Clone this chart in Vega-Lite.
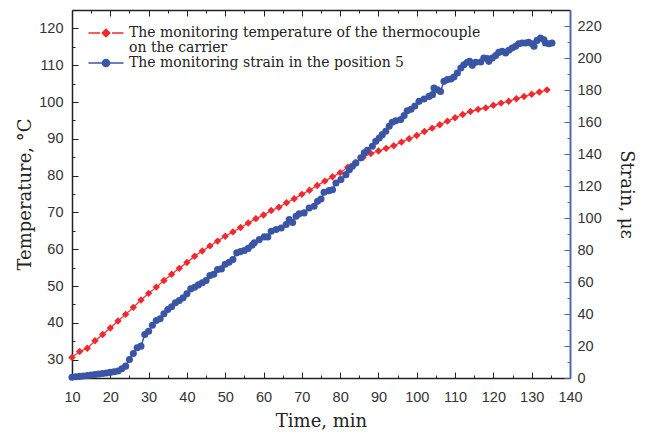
{
  "$schema": "https://vega.github.io/schema/vega-lite/v6.json",
  "width": 498,
  "height": 368,
  "autosize": {"type": "none"},
  "padding": {"left": 72, "top": 10, "right": 76, "bottom": 59},
  "background": "white",
  "config": {
    "view": {"stroke": null},
    "axis": {
      "grid": false,
      "labelFlush": false,
      "labelFont": "Liberation Sans",
      "labelFontSize": 14.5,
      "labelColor": "#333",
      "titleFont": "DejaVu Serif",
      "titleFontSize": 18,
      "titleFontWeight": "normal",
      "titleColor": "#222",
      "domainColor": "#222",
      "tickColor": "#222",
      "domainWidth": 1.5,
      "tickWidth": 1
    }
  },
  "datasets": {
    "temp": [
      {"time": 10, "temperature": 30.6}, {"time": 12, "temperature": 32.2}, {"time": 14, "temperature": 33.1},
      {"time": 16, "temperature": 35.1}, {"time": 18, "temperature": 36.8}, {"time": 20, "temperature": 38.6},
      {"time": 22, "temperature": 40.5}, {"time": 24, "temperature": 42.3}, {"time": 26, "temperature": 44.2},
      {"time": 28, "temperature": 46.2}, {"time": 30, "temperature": 48.0}, {"time": 32, "temperature": 49.7},
      {"time": 34, "temperature": 51.5}, {"time": 36, "temperature": 53.2}, {"time": 38, "temperature": 54.8},
      {"time": 40, "temperature": 56.4}, {"time": 42, "temperature": 58.1}, {"time": 44, "temperature": 59.5},
      {"time": 46, "temperature": 60.9}, {"time": 48, "temperature": 62.2}, {"time": 50, "temperature": 63.5},
      {"time": 52, "temperature": 64.7}, {"time": 54, "temperature": 65.9}, {"time": 56, "temperature": 67.1},
      {"time": 58, "temperature": 68.3}, {"time": 60, "temperature": 69.3}, {"time": 62, "temperature": 70.5},
      {"time": 64, "temperature": 71.4}, {"time": 66, "temperature": 72.6}, {"time": 68, "temperature": 73.7},
      {"time": 70, "temperature": 74.9}, {"time": 72, "temperature": 76.0}, {"time": 74, "temperature": 77.3},
      {"time": 76, "temperature": 78.5}, {"time": 78, "temperature": 79.7}, {"time": 80, "temperature": 80.8},
      {"time": 82, "temperature": 82.3}, {"time": 84, "temperature": 83.6}, {"time": 86, "temperature": 85.0},
      {"time": 88, "temperature": 86.0}, {"time": 90, "temperature": 86.7}, {"time": 92, "temperature": 87.4},
      {"time": 94, "temperature": 88.1}, {"time": 96, "temperature": 89.1}, {"time": 98, "temperature": 90.0},
      {"time": 100, "temperature": 90.9}, {"time": 102, "temperature": 92.0}, {"time": 104, "temperature": 92.9},
      {"time": 106, "temperature": 93.8}, {"time": 108, "temperature": 94.8}, {"time": 110, "temperature": 95.7},
      {"time": 112, "temperature": 96.6}, {"time": 114, "temperature": 97.4}, {"time": 116, "temperature": 98.0},
      {"time": 118, "temperature": 98.4}, {"time": 120, "temperature": 99.1}, {"time": 122, "temperature": 99.7},
      {"time": 124, "temperature": 100.2}, {"time": 126, "temperature": 100.9}, {"time": 128, "temperature": 101.5},
      {"time": 130, "temperature": 102.1}, {"time": 132, "temperature": 102.7}, {"time": 134, "temperature": 103.3}
    ],
    "strain": [
      {"time": 10, "strain": 0.5}, {"time": 11, "strain": 0.8}, {"time": 12, "strain": 1.0}, {"time": 13, "strain": 1.3},
      {"time": 14, "strain": 1.6}, {"time": 15, "strain": 1.9}, {"time": 16, "strain": 2.2}, {"time": 17, "strain": 2.5},
      {"time": 18, "strain": 2.8}, {"time": 19, "strain": 3.1}, {"time": 20, "strain": 3.5}, {"time": 21, "strain": 3.9},
      {"time": 22, "strain": 4.4}, {"time": 23, "strain": 5.8}, {"time": 24, "strain": 7.4}, {"time": 25, "strain": 11.6},
      {"time": 26, "strain": 15.3}, {"time": 27, "strain": 18.9}, {"time": 28, "strain": 19.9}, {"time": 29, "strain": 27.2},
      {"time": 30, "strain": 29.2}, {"time": 31, "strain": 33.0}, {"time": 32, "strain": 35.9}, {"time": 33, "strain": 37.0},
      {"time": 34, "strain": 40.1}, {"time": 35, "strain": 42.8}, {"time": 36, "strain": 44.5}, {"time": 37, "strain": 47.0},
      {"time": 38, "strain": 48.4}, {"time": 39, "strain": 50.1}, {"time": 40, "strain": 52.6}, {"time": 41, "strain": 55.7},
      {"time": 42, "strain": 56.7}, {"time": 43, "strain": 58.2}, {"time": 44, "strain": 59.5}, {"time": 45, "strain": 60.9},
      {"time": 46, "strain": 64.0}, {"time": 47, "strain": 64.8}, {"time": 48, "strain": 67.8}, {"time": 49, "strain": 68.2},
      {"time": 50, "strain": 71.1}, {"time": 51, "strain": 72.3}, {"time": 52, "strain": 74.0}, {"time": 53, "strain": 78.2},
      {"time": 54, "strain": 79.0}, {"time": 55, "strain": 79.7}, {"time": 56, "strain": 81.0}, {"time": 57, "strain": 83.0},
      {"time": 57.6, "strain": 84.5}, {"time": 58.9, "strain": 86.5}, {"time": 60.2, "strain": 88.2}, {"time": 61.1, "strain": 88.2},
      {"time": 62, "strain": 91.7}, {"time": 63.3, "strain": 92.8}, {"time": 64.6, "strain": 93.8}, {"time": 65.9, "strain": 95.9},
      {"time": 66.7, "strain": 99.0}, {"time": 67.6, "strain": 97.2}, {"time": 68.5, "strain": 101.1}, {"time": 69.3, "strain": 102.6},
      {"time": 70.6, "strain": 103.2}, {"time": 71.9, "strain": 106.3}, {"time": 73.2, "strain": 107.3}, {"time": 74.1, "strain": 110.4},
      {"time": 75, "strain": 111.9}, {"time": 75.8, "strain": 116.1}, {"time": 77.1, "strain": 117.1}, {"time": 78, "strain": 117.7},
      {"time": 78.9, "strain": 121.9}, {"time": 80.2, "strain": 124.0}, {"time": 81.5, "strain": 127.1}, {"time": 82.4, "strain": 130.2},
      {"time": 83.2, "strain": 132.3}, {"time": 84.1, "strain": 134.4}, {"time": 85.4, "strain": 137.6}, {"time": 86.3, "strain": 140.7},
      {"time": 87.1, "strain": 142.3}, {"time": 88.4, "strain": 144.8}, {"time": 89.3, "strain": 147.9}, {"time": 90.2, "strain": 150.0},
      {"time": 91, "strain": 152.1}, {"time": 91.9, "strain": 154.2}, {"time": 92.8, "strain": 157.3}, {"time": 93.6, "strain": 159.8},
      {"time": 94.5, "strain": 160.8}, {"time": 95.8, "strain": 161.5}, {"time": 96.7, "strain": 164.0}, {"time": 97.5, "strain": 167.0},
      {"time": 98.5, "strain": 168.0}, {"time": 99.5, "strain": 170.0}, {"time": 100.6, "strain": 172.9}, {"time": 101.9, "strain": 174.4},
      {"time": 103.2, "strain": 176.0}, {"time": 104.1, "strain": 177.1}, {"time": 104.5, "strain": 181.3}, {"time": 105.4, "strain": 180.2},
      {"time": 106.2, "strain": 179.1}, {"time": 107.1, "strain": 185.4}, {"time": 108, "strain": 186.5}, {"time": 108.9, "strain": 186.9},
      {"time": 109.7, "strain": 188.1}, {"time": 110.6, "strain": 190.6}, {"time": 111.5, "strain": 193.8}, {"time": 112.3, "strain": 195.8},
      {"time": 113.2, "strain": 197.3}, {"time": 113.8, "strain": 197.9}, {"time": 114.5, "strain": 195.4}, {"time": 115.4, "strain": 197.3},
      {"time": 116.7, "strain": 197.5}, {"time": 117.5, "strain": 200.0}, {"time": 118.4, "strain": 199.6}, {"time": 118.8, "strain": 197.9},
      {"time": 119.7, "strain": 200.0}, {"time": 120.6, "strain": 201.5}, {"time": 121.4, "strain": 203.5}, {"time": 122.3, "strain": 204.2},
      {"time": 123.2, "strain": 203.2}, {"time": 124, "strain": 204.8}, {"time": 124.9, "strain": 206.3}, {"time": 125.8, "strain": 207.3},
      {"time": 126.6, "strain": 208.9}, {"time": 127.5, "strain": 209.4}, {"time": 128.4, "strain": 209.4}, {"time": 129.2, "strain": 209.8},
      {"time": 130.1, "strain": 208.9}, {"time": 130.6, "strain": 207.3}, {"time": 131.4, "strain": 211.0}, {"time": 132.3, "strain": 212.5},
      {"time": 133.2, "strain": 211.4}, {"time": 133.6, "strain": 209.4}, {"time": 134.5, "strain": 208.9}, {"time": 135.3, "strain": 209.4}
    ]
  },
  "layer": [
    {
      "data": {"name": "temp"},
      "mark": {"type": "line", "strokeWidth": 1.2},
      "encoding": {
        "x": {"field": "time", "type": "quantitative", "scale": {"domain": [10, 140], "nice": false, "zero": false},
          "axis": {"orient": "bottom", "values": [10, 20, 30, 40, 50, 60, 70, 80, 90, 100, 110, 120, 130, 140], "tickSize": -6, "labelPadding": 18, "title": "Time, min", "titlePadding": 9}},
        "y": {"field": "temperature", "type": "quantitative", "scale": {"domain": [25, 125], "nice": false, "zero": false},
          "axis": {"orient": "left", "values": [30, 40, 50, 60, 70, 80, 90, 100, 110, 120], "tickSize": -6, "labelPadding": 15, "title": "Temperature, °C", "titlePadding": 4}},
        "color": {
          "datum": "The monitoring temperature of the thermocouple on the carrier",
          "type": "nominal",
          "scale": {"domain": ["The monitoring temperature of the thermocouple on the carrier", "The monitoring strain in the position 5"], "range": ["#f2282d", "#3a55a5"]},
          "legend": {
            "orient": "none", "legendX": 27, "legendY": 16, "direction": "vertical", "title": null,
            "labelFont": "DejaVu Serif", "labelFontSize": 14, "labelColor": "#222", "labelLimit": 600,
            "labelOffset": 16, "symbolSize": 100, "symbolStrokeWidth": 1.5, "rowPadding": 1,
            "labelExpr": "datum.label == 'The monitoring temperature of the thermocouple on the carrier' ? ['The monitoring temperature of the thermocouple', 'on the carrier'] : datum.label",
            "encode": {
              "labels": {"update": {"lineHeight": {"value": 15}}},
              "symbols": {"update": {
                "shape": {"signal": "datum.value == 'The monitoring temperature of the thermocouple on the carrier' ? 'M-3.5,0H-1.2M1.2,0H3.5M0,-0.75L0.75,0L0,0.75L-0.75,0Z' : 'M-3.5,0H3.5M-0.7,0A0.7,0.7,0,1,1,0.7,0A0.7,0.7,0,1,1,-0.7,0Z'"},
                "fill": {"signal": "datum.value == 'The monitoring temperature of the thermocouple on the carrier' ? '#f2282d' : '#3a55a5'"},
                "stroke": {"signal": "datum.value == 'The monitoring temperature of the thermocouple on the carrier' ? '#f2282d' : '#3a55a5'"},
                "strokeWidth": {"value": 1.5},
                "opacity": {"value": 1}
              }}
            }
          }
        }
      }
    },
    {
      "data": {"name": "temp"},
      "mark": {"type": "point", "shape": "diamond", "filled": true, "size": 55, "opacity": 1},
      "encoding": {
        "x": {"field": "time", "type": "quantitative",
          "axis": {"orient": "bottom", "values": [15, 25, 35, 45, 55, 65, 75, 85, 95, 105, 115, 125, 135], "tickSize": -3, "labels": false, "domain": false, "title": null}},
        "y": {"field": "temperature", "type": "quantitative", "scale": {"domain": [25, 125], "nice": false, "zero": false},
          "axis": {"orient": "left", "values": [35, 45, 55, 65, 75, 85, 95, 105, 115], "tickSize": -3, "labels": false, "domain": false, "title": null}},
        "color": {"datum": "The monitoring temperature of the thermocouple on the carrier", "type": "nominal"}
      }
    },
    {
      "data": {"name": "strain"},
      "mark": {"type": "line", "strokeWidth": 1.5},
      "encoding": {
        "x": {"field": "time", "type": "quantitative",
          "axis": {"orient": "top", "values": [10, 20, 30, 40, 50, 60, 70, 80, 90, 100, 110, 120, 130, 140], "tickSize": -6, "labels": false, "title": null}},
        "y": {"field": "strain", "type": "quantitative", "scale": {"domain": [0, 230], "nice": false, "zero": false},
          "axis": {"orient": "right", "values": [0, 20, 40, 60, 80, 100, 120, 140, 160, 180, 200, 220], "tickSize": -6, "labelPadding": 13, "title": "Strain, με", "titlePadding": 15, "domainColor": "#5068b0", "tickColor": "#5068b0", "domainWidth": 2}},
        "color": {"datum": "The monitoring strain in the position 5", "type": "nominal"}
      }
    },
    {
      "data": {"name": "strain"},
      "mark": {"type": "point", "shape": "circle", "filled": true, "size": 50, "opacity": 1},
      "encoding": {
        "x": {"field": "time", "type": "quantitative",
          "axis": {"orient": "top", "values": [15, 25, 35, 45, 55, 65, 75, 85, 95, 105, 115, 125, 135], "tickSize": -3, "labels": false, "domain": false, "title": null}},
        "y": {"field": "strain", "type": "quantitative", "scale": {"domain": [0, 230], "nice": false, "zero": false},
          "axis": {"orient": "right", "values": [10, 30, 50, 70, 90, 110, 130, 150, 170, 190, 210], "tickSize": -3, "labels": false, "domain": false, "title": null, "tickColor": "#5068b0"}},
        "color": {"datum": "The monitoring strain in the position 5", "type": "nominal"}
      }
    }
  ],
  "resolve": {"scale": {"y": "independent"}, "axis": {"x": "independent", "y": "independent"}}
}
